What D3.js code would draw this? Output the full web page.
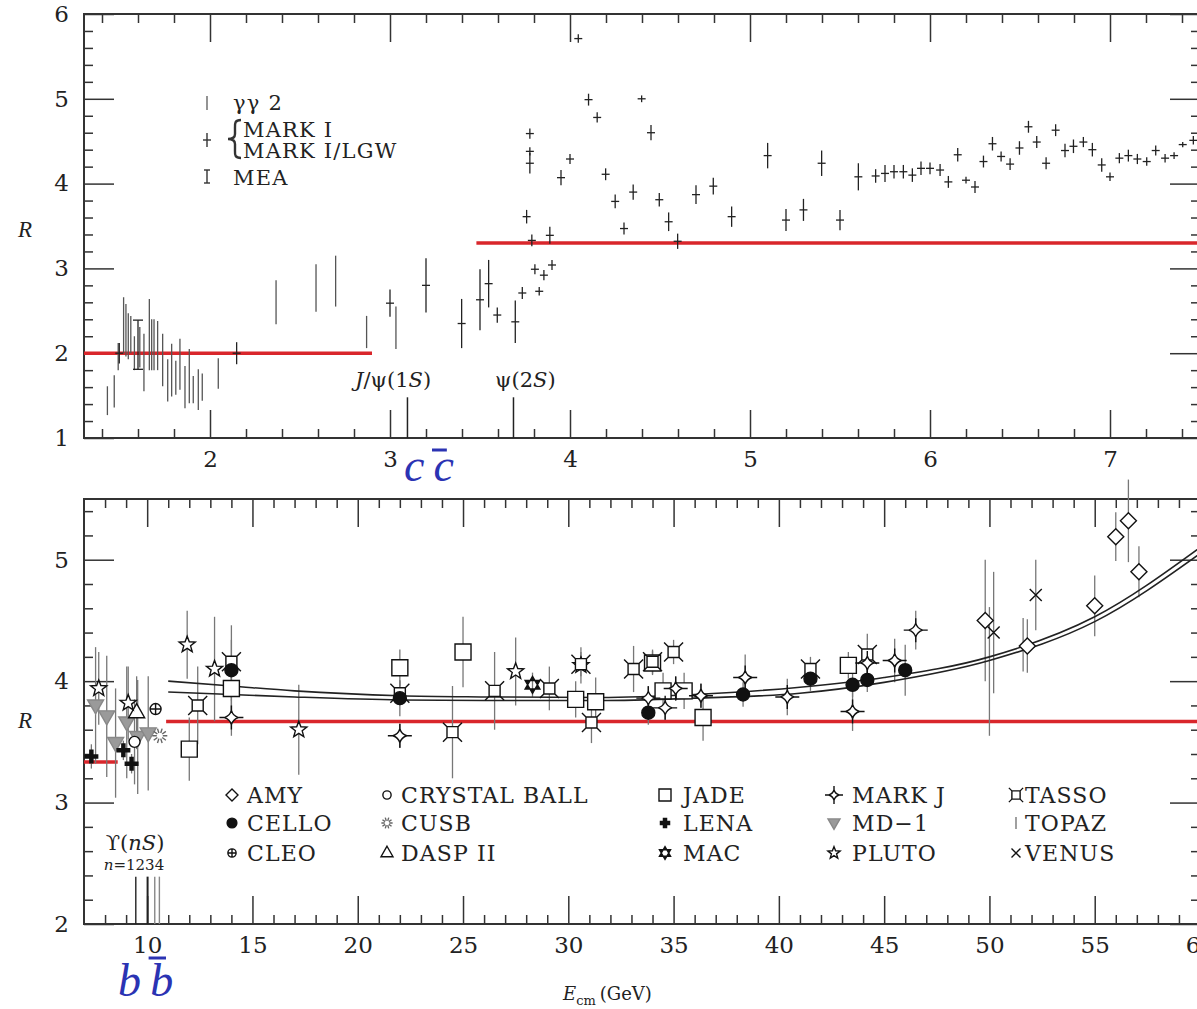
<!DOCTYPE html>
<html>
<head>
<meta charset="utf-8">
<script src="https://cdn.jsdelivr.net/npm/d3@7"></script>
<style>
  body { margin: 0; background: #fff; }
  svg text { font-family: "DejaVu Serif", "Liberation Serif", serif; fill: #222; }
</style>
</head>
<body>
<svg id="chart" width="1197" height="1009"></svg>
<script>
// ---------- data: top panel (E in GeV, R, error) ----------
const gg2 = [[1.43,1.44,0.17],[1.468,1.55,0.19],[1.49,1.96,0.16],[1.52,2.33,0.33],[1.533,2.27,0.31],
  [1.546,2.2,0.27],[1.56,2.22,0.22],[1.58,2.0,0.2],[1.61,2.07,0.24],[1.633,1.89,0.34],[1.663,2.22,0.42],
  [1.676,2.1,0.3],[1.689,2.1,0.3],[1.709,2.09,0.29],[1.737,1.92,0.31],[1.765,1.68,0.25],[1.787,1.8,0.31],
  [1.81,1.71,0.2],[1.833,1.87,0.3],[1.861,1.6,0.25],[1.885,1.73,0.32],[1.907,1.57,0.16],[1.935,1.57,0.24],
  [1.957,1.6,0.16],[2.046,1.76,0.18],[2.367,2.6,0.26],[2.589,2.77,0.28],[2.698,2.85,0.3],[2.87,2.25,0.19],
  [3.033,2.3,0.25]];
const markI = [[1.496,2.0,0.12],[2.148,2.0,0.13],[3.0,2.59,0.16],[3.2,2.8,0.32],[3.398,2.35,0.29],
  [3.5,2.63,0.36],[3.548,2.82,0.28],[3.596,2.45,0.09],[3.696,2.37,0.25],[3.735,2.71,0.07],[3.759,3.61,0.08],
  [3.777,4.59,0.06],[3.777,4.38,0.05],[3.777,4.24,0.12],[3.788,3.33,0.07],[3.805,2.99,0.06],[3.829,2.73,0.05],
  [3.855,2.92,0.06],[3.888,3.39,0.1],[3.9,3.04,0.06],[3.95,4.07,0.09],[4.0,4.29,0.06],[4.046,5.71,0.05],
  [4.103,4.99,0.07],[4.151,4.78,0.06],[4.198,4.11,0.07],[4.251,3.79,0.08],[4.3,3.47,0.07],[4.351,3.9,0.09],
  [4.398,5.0,0.04],[4.45,4.6,0.09],[4.496,3.81,0.08],[4.548,3.55,0.11],[4.598,3.32,0.09],[4.7,3.87,0.11],
  [4.796,3.97,0.1],[4.898,3.61,0.12],[5.098,4.33,0.15],[5.2,3.57,0.13],[5.297,3.69,0.13],[5.398,4.24,0.15],
  [5.5,3.57,0.12],[5.602,4.08,0.16],[5.698,4.09,0.08],[5.75,4.12,0.1],[5.8,4.14,0.08],[5.852,4.14,0.08],
  [5.902,4.1,0.08],[5.95,4.18,0.08],[6.0,4.18,0.07],[6.056,4.16,0.07],[6.102,4.02,0.07],[6.154,4.34,0.08],
  [6.2,4.04,0.04],[6.25,3.96,0.07],[6.297,4.26,0.07],[6.347,4.47,0.08],[6.395,4.32,0.06],[6.445,4.23,0.07],
  [6.497,4.42,0.08],[6.547,4.67,0.07],[6.593,4.49,0.07],[6.645,4.24,0.07],[6.698,4.63,0.07],[6.75,4.39,0.08],
  [6.797,4.44,0.08],[6.852,4.49,0.06],[6.902,4.4,0.08],[6.954,4.22,0.08],[7.0,4.08,0.05],[7.052,4.3,0.06],
  [7.102,4.33,0.07],[7.152,4.29,0.06],[7.204,4.26,0.05],[7.254,4.39,0.06],[7.306,4.3,0.05],[7.356,4.33,0.04],
  [7.404,4.46,0.03],[7.463,4.51,0.05]];
const mea = [[1.6,2.1,0.29]];
const topParton = [[1.3,2.9,2.0],[3.48,7.5,3.3]];        // [from, to, R]
const charmonium = [[3.097,"J/ψ(1S)"],[3.686,"ψ(2S)"]];

// ---------- data: bottom panel ----------
const amy = [[49.8,4.5,0.5],[51.8,4.29,0.22],[55.0,4.62,0.25],[56.0,5.19,0.2],[56.6,5.32,0.34],[57.1,4.9,0.21]];
const cello = [[14.0,4.09,0.25],[22.0,3.86,0.15],[33.8,3.74,0.1],[38.3,3.89,0.1],[41.5,4.02,0.1],
  [43.5,3.97,0.1],[44.2,4.01,0.1],[46.0,4.09,0.21]];
const cleo = [[10.4,3.77,0]];
const crystalBall = [[9.4,3.5,0.35]];
const cusb = [[10.6,3.55,0]];
const daspII = [[9.5,3.74,0.3]];
const jade = [[12.0,3.44,0.26],[14.0,3.94,0.2],[22.0,4.11,0.15],[25.0,4.24,0.29],[30.35,3.85,0.15],
  [31.3,3.83,0.2],[34.0,4.15,0.1],[34.5,3.92,0.15],[35.5,3.92,0.15],[36.4,3.7,0.19],[43.3,4.13,0.11]];
const lena = [[7.35,3.38,0.1],[8.87,3.43,0.08],[9.26,3.32,0.08]];
const mac = [[28.3,3.97,0.1]];
const markJ = [[14.0,3.7,0.15],[22.0,3.55,0.1],[33.8,3.86,0.1],[34.6,3.78,0.1],[35.1,3.94,0.1],
  [36.3,3.88,0.1],[38.4,4.03,0.19],[40.4,3.87,0.15],[43.5,3.75,0.16],[44.2,4.15,0.1],[45.5,4.17,0.18],[46.5,4.42,0.16]];
const md1 = [[7.55,3.8,0.48],[8.08,3.71,0.5],[8.5,3.49,0.45],[9.03,3.66,0.46],[9.55,3.54,0.47],[10.05,3.57,0.47]];
const pluto = [[7.7,3.94,0.3],[9.1,3.82,0.3],[11.9,4.3,0.28],[13.2,4.1,0.43],[17.2,3.6,0.37],[27.5,4.08,0.28],[30.6,4.13,0.15]];
const tasso = [[12.4,3.8,0.32],[14.0,4.16,0.3],[22.0,3.9,0.1],[24.5,3.58,0.38],[26.5,3.92,0.32],[29.1,3.94,0.18],
  [30.6,4.14,0.1],[31.1,3.66,0.17],[33.1,4.1,0.19],[34.0,4.16,0.1],[35.0,4.24,0.1],[41.5,4.1,0.1],[44.2,4.22,0.17]];
const topaz = [[50.0,4.08,0.53],[51.6,4.3,0.22]];
const venus = [[50.2,4.4,0.5],[52.2,4.71,0.29]];
const qcdUpper = [[11,4.0],[14,3.96],[17,3.92],[22,3.88],[26,3.87],[31.5,3.865],[36,3.89],[41,3.95],[45,4.03],[50,4.2],[55,4.53],[60,5.1]];
const qcdLower = [[11,3.91],[14,3.89],[17,3.87],[22,3.845],[26,3.84],[31.5,3.84],[36,3.86],[41,3.9],[45,3.99],[50,4.17],[55,4.49],[60,5.05]];
const botParton = [[7,8.6,10/3],[10.9,60,11/3]];
const upsilon = [9.46,10.02,10.36,10.58];

// tick labels
const topXTicks = [2,3,4,5,6,7];
const topYTicks = [1,2,3,4,5,6];
const botXTicks = [10,15,20,25,30,35,40,45,50,55,60];
const botYTicks = [2,3,4,5];

// legend names (columns of the bottom legend)
const legendCols = [["AMY","CELLO","CLEO"],["CRYSTAL BALL","CUSB","DASP II"],["JADE","LENA","MAC"],
  ["MARK J","MD−1","PLUTO"],["TASSO","TOPAZ","VENUS"]];

// ---------- marker shapes ----------
function star(n, ro, ri) {
  let p = "";
  for (let k = 0; k < 2 * n; k++) {
    const r = k % 2 ? ri : ro, a = -Math.PI / 2 + k * Math.PI / n;
    p += (k ? "L" : "M") + (r * Math.cos(a)).toFixed(2) + "," + (r * Math.sin(a)).toFixed(2);
  }
  return p + "Z";
}
function ring(r) { return `M${r},0A${r},${r} 0 1,1 ${-r},0A${r},${r} 0 1,1 ${r},0Z`; }
function rays(r0, r1, n) {
  let p = "";
  for (let k = 0; k < n; k++) {
    const a = k * 2 * Math.PI / n;
    p += `M${(r0*Math.cos(a)).toFixed(2)},${(r0*Math.sin(a)).toFixed(2)}L${(r1*Math.cos(a)).toFixed(2)},${(r1*Math.sin(a)).toFixed(2)}`;
  }
  return p;
}
const shapes = {
  AMY: { d: "M0,-8L8,0L0,8L-8,0Z", fill: "#fff" },
  CELLO: { d: ring(6.5), fill: "#111" },
  CLEO: { d: ring(5.5) + "M-5.5,0H5.5M0,-5.5V5.5", fill: "#fff" },
  "CRYSTAL BALL": { d: ring(5.5), fill: "#fff" },
  CUSB: { d: rays(3, 7.5, 10), fill: "none", stroke: "#666" },
  "DASP II": { d: "M0,-9L8,5L-8,5Z", fill: "#fff" },
  JADE: { d: "M-8,-8H8V8H-8Z", fill: "#fff" },
  LENA: { d: "M-7,0H7M0,-7V7", fill: "none", width: 4.5 },
  MAC: { d: "M0,-8.5L7.4,4.25L-7.4,4.25ZM0,8.5L7.4,-4.25L-7.4,-4.25Z", fill: "#111" },
  "MARK J": { d: "M0,-7Q1.6,-1.6 7,0Q1.6,1.6 0,7Q-1.6,1.6 -7,0Q-1.6,-1.6 0,-7ZM0,-7V-12M0,7V12M7,0H12M-7,0H-12", fill: "#fff" },
  "MD−1": { d: "M-8,-5.5H8L0,8.5Z", fill: "#9a9a9a", stroke: "#888" },
  PLUTO: { d: star(5, 8.5, 3.6), fill: "#fff" },
  TASSO: { d: "M-5.5,-5.5H5.5V5.5H-5.5ZM-5.5,-5.5L-9.5,-9.5M5.5,-5.5L9.5,-9.5M5.5,5.5L9.5,9.5M-5.5,5.5L-9.5,9.5", fill: "#fff" },
  TOPAZ: { d: "M0,-8V8", fill: "none", stroke: "#777" },
  VENUS: { d: "M-6,-6L6,6M6,-6L-6,6", fill: "none" }
};
const botSeries = [
  ["MD−1", md1], ["CRYSTAL BALL", crystalBall], ["CUSB", cusb], ["CLEO", cleo], ["DASP II", daspII],
  ["LENA", lena], ["TOPAZ", topaz], ["PLUTO", pluto], ["JADE", jade], ["TASSO", tasso], ["CELLO", cello],
  ["MAC", mac], ["MARK J", markJ], ["AMY", amy], ["VENUS", venus]
];

function drawShape(sel, name, scale) {
  const s = shapes[name];
  sel.append("path")
    .attr("d", s.d)
    .attr("transform", scale ? `scale(${scale})` : null)
    .attr("fill", s.fill)
    .attr("stroke", s.stroke || "#111")
    .attr("stroke-width", (s.width || 1.4) / (scale || 1));
}

// ---------- scales ----------
const svg = d3.select("#chart");
svg.append("rect").attr("width", 1197).attr("height", 1009).attr("fill", "#fff");

const topX = d3.scaleLinear().domain([1.3, 7.5]).range([84, 1200]);
const topY = d3.scaleLinear().domain([1, 6]).range([438, 14]);
const botX = d3.scaleLinear().domain([7, 60]).range([84, 1200]);
const botY = d3.scaleLinear().domain([2, 5.5]).range([924, 499]);

// frame + inward ticks on all four sides
function frame(x, y, xMajor, xMinor, yMajor, yMinor) {
  const [x0, x1] = x.range(), [y0, y1] = y.range();
  const g = svg.append("g");
  const style = a => {
    a.select(".domain").remove();
    a.selectAll("line").attr("stroke", "#333").attr("stroke-width", 1.5);
    a.attr("font-size", 23);
  };
  g.append("g").attr("transform", `translate(0,${y0})`)
    .call(d3.axisBottom(x).tickValues(xMinor).tickSize(-9).tickFormat("")).call(style);
  g.append("g").attr("transform", `translate(0,${y0})`)
    .call(d3.axisBottom(x).tickValues(xMajor).tickSize(-28).tickPadding(13).tickFormat(d3.format("d"))).call(style);
  g.append("g").attr("transform", `translate(0,${y1})`)
    .call(d3.axisTop(x).tickValues(xMinor).tickSize(-9).tickFormat("")).call(style);
  g.append("g").attr("transform", `translate(0,${y1})`)
    .call(d3.axisTop(x).tickValues(xMajor).tickSize(-28).tickFormat("")).call(style);
  g.append("g").attr("transform", `translate(${x0},0)`)
    .call(d3.axisLeft(y).tickValues(yMinor).tickSize(-9).tickFormat("")).call(style);
  g.append("g").attr("transform", `translate(${x0},0)`)
    .call(d3.axisLeft(y).tickValues(yMajor).tickSize(-30).tickPadding(15).tickFormat(d3.format("d"))).call(style);
  g.append("g").attr("transform", `translate(${x1},0)`)
    .call(d3.axisRight(y).tickValues(yMinor).tickSize(-9).tickFormat("")).call(style);
  g.append("g").attr("transform", `translate(${x1},0)`)
    .call(d3.axisRight(y).tickValues(yMajor).tickSize(-30).tickFormat("")).call(style);
  g.append("rect").attr("x", x0).attr("y", y1).attr("width", x1 - x0).attr("height", y0 - y1)
    .attr("fill", "none").attr("stroke", "#333").attr("stroke-width", 2);
  return g;
}

const notInt = v => Math.abs(v - Math.round(v)) > 1e-6;
frame(topX, topY, topXTicks, d3.range(7, 38).map(i => i / 5).filter(notInt),
      topYTicks, d3.range(5, 31).map(i => i / 5).filter(notInt));
frame(botX, botY, botXTicks, d3.range(8, 60).filter(v => v % 5),
      botYTicks, d3.range(10, 28).map(i => i / 5).filter(notInt));

// ---------- top panel marks ----------
const gT = svg.append("g");
gT.selectAll(".parton").data(topParton).join("line")
  .attr("x1", d => topX(d[0])).attr("x2", d => topX(d[1]))
  .attr("y1", d => topY(d[2])).attr("y2", d => topY(d[2]))
  .attr("stroke", "#d9262b").attr("stroke-width", 3.5);

gT.selectAll(".res").data(charmonium).join("line")
  .attr("x1", d => topX(d[0])).attr("x2", d => topX(d[0]))
  .attr("y1", topY(1)).attr("y2", topY(1.48))
  .attr("stroke", "#222").attr("stroke-width", 1.5);

gT.selectAll(".gg2").data(gg2).join("line")
  .attr("x1", d => topX(d[0])).attr("x2", d => topX(d[0]))
  .attr("y1", d => topY(d[1] - d[2])).attr("y2", d => topY(d[1] + d[2]))
  .attr("stroke", "#555").attr("stroke-width", 1.3);

const mk = gT.selectAll(".mk").data(markI).join("g")
  .attr("transform", d => `translate(${topX(d[0])},${topY(d[1])})`)
  .attr("stroke", "#222").attr("stroke-width", 1.3);
mk.append("line").attr("y1", d => topY(d[1] - d[2]) - topY(d[1])).attr("y2", d => topY(d[1] + d[2]) - topY(d[1]));
mk.append("line").attr("x1", -4).attr("x2", 4);

const me = gT.selectAll(".mea").data(mea).join("g")
  .attr("transform", d => `translate(${topX(d[0])},${topY(d[1])})`)
  .attr("stroke", "#222").attr("stroke-width", 1.3);
me.append("line").attr("y1", d => topY(d[1] - d[2]) - topY(d[1])).attr("y2", d => topY(d[1] + d[2]) - topY(d[1]));
me.append("line").attr("x1", -5).attr("x2", 5).attr("y1", d => topY(d[1] + d[2]) - topY(d[1])).attr("y2", d => topY(d[1] + d[2]) - topY(d[1]));
me.append("line").attr("x1", -5).attr("x2", 5).attr("y1", d => topY(d[1] - d[2]) - topY(d[1])).attr("y2", d => topY(d[1] - d[2]) - topY(d[1]));

// resonance labels
const jl = svg.append("text").attr("x", 355).attr("y", 387).attr("font-size", 21);
jl.append("tspan").attr("font-style", "italic").text("J");
jl.append("tspan").text("/ψ(1");
jl.append("tspan").attr("font-style", "italic").text("S");
jl.append("tspan").text(")");
const pl = svg.append("text").attr("x", 495).attr("y", 387).attr("font-size", 21);
pl.append("tspan").text("ψ(2");
pl.append("tspan").attr("font-style", "italic").text("S");
pl.append("tspan").text(")");

// top legend
const lg = svg.append("g").attr("stroke", "#333").attr("stroke-width", 1.4);
lg.append("line").attr("x1", 207).attr("x2", 207).attr("y1", 96).attr("y2", 110).attr("stroke", "#666");
lg.append("line").attr("x1", 207).attr("x2", 207).attr("y1", 133).attr("y2", 147);
lg.append("line").attr("x1", 203).attr("x2", 211).attr("y1", 140).attr("y2", 140);
lg.append("line").attr("x1", 207).attr("x2", 207).attr("y1", 170).attr("y2", 183);
lg.append("line").attr("x1", 204).attr("x2", 210).attr("y1", 170).attr("y2", 170);
lg.append("line").attr("x1", 204).attr("x2", 210).attr("y1", 183).attr("y2", 183);
lg.append("path").attr("fill", "none").attr("stroke-width", 2.4)
  .attr("d", "M241,120C234,120 235,124 235,130L235,134C235,137 233,139 228,139C233,139 235,141 235,144L235,149C235,154 234,158 241,158");
const tl = [["γγ 2", 233, 110], ["MARK I", 243, 137], ["MARK I/LGW", 243, 158], ["MEA", 233, 185]];
svg.selectAll(".tl").data(tl).join("text")
  .attr("x", d => d[1]).attr("y", d => d[2]).attr("font-size", 21).attr("letter-spacing", 1.2).text(d => d[0]);

// ---------- bottom panel marks ----------
const gB = svg.append("g");
gB.selectAll(".parton").data(botParton).join("line")
  .attr("x1", d => botX(d[0])).attr("x2", d => botX(d[1]))
  .attr("y1", d => botY(d[2])).attr("y2", d => botY(d[2]))
  .attr("stroke", "#d9262b").attr("stroke-width", 3.5);

gB.selectAll(".ups").data(upsilon).join("line")
  .attr("x1", d => botX(d)).attr("x2", d => botX(d))
  .attr("y1", botY(2)).attr("y2", botY(2.39))
  .attr("stroke", (d, i) => i < 2 ? "#222" : "#888").attr("stroke-width", (d, i) => i === 1 ? 2 : 1.4);

// error bars first, then the markers
botSeries.forEach(([name, data]) => {
  gB.append("g").selectAll("line").data(data.filter(d => d[2] > 0)).join("line")
    .attr("x1", d => botX(d[0])).attr("x2", d => botX(d[0]))
    .attr("y1", d => botY(d[1] - d[2])).attr("y2", d => botY(d[1] + d[2]))
    .attr("stroke", "#777").attr("stroke-width", 1.3);
});

const line = d3.line().x(d => botX(d[0])).y(d => botY(d[1])).curve(d3.curveMonotoneX);
[qcdUpper, qcdLower].forEach(c => {
  gB.append("path").attr("d", line(c)).attr("fill", "none").attr("stroke", "#222").attr("stroke-width", 1.6);
});

botSeries.forEach(([name, data]) => {
  if (name === "TOPAZ") return;
  gB.append("g").selectAll("g").data(data).join("g")
    .attr("transform", d => `translate(${botX(d[0])},${botY(d[1])})`)
    .each(function () { drawShape(d3.select(this), name); });
});

// Upsilon label
const ul = svg.append("text").attr("x", 135).attr("y", 850).attr("text-anchor", "middle").attr("font-size", 21);
ul.append("tspan").text("ϒ(");
ul.append("tspan").attr("font-style", "italic").text("nS");
ul.append("tspan").text(")");
const nl = svg.append("text").attr("x", 134).attr("y", 870).attr("text-anchor", "middle").attr("font-size", 15);
nl.append("tspan").attr("font-style", "italic").text("n");
nl.append("tspan").text("=1234");

// bottom legend
const colX = [[232, 247], [387, 401], [665, 683], [834, 852], [1016, 1025]];
const rowY = [795, 823, 853];
legendCols.forEach((col, ci) => {
  col.forEach((name, ri) => {
    const g = svg.append("g").attr("transform", `translate(${colX[ci][0]},${rowY[ri]})`);
    drawShape(g, name, 0.75);
    svg.append("text").attr("x", colX[ci][1]).attr("y", rowY[ri] + 8)
      .attr("font-size", 22).attr("letter-spacing", 1.1).text(name);
  });
});

// axis titles
svg.selectAll(".rl").data([topY(3.45), botY(3.67)]).join("text")
  .attr("x", 18).attr("y", d => d + 7).attr("font-size", 23)
  .attr("font-style", "italic").style("font-family", "Liberation Serif").text("R");
const xl = svg.append("text").attr("x", 563).attr("y", 1000).attr("font-size", 18);
xl.append("tspan").attr("font-style", "italic").text("E");
xl.append("tspan").attr("font-size", 13).attr("dy", 5).text("cm");
xl.append("tspan").attr("dy", -5).attr("dx", 4).text("(GeV)");

// quark flavour labels
const blue = "#2b33b3";
function quarkLabel(q, x, y, size, barY) {
  const t = svg.append("text").attr("x", x).attr("y", y).attr("font-size", size)
    .style("font-family", "Liberation Serif").attr("font-style", "italic").style("fill", blue);
  t.append("tspan").text(q);
  t.append("tspan").attr("dx", size * 0.2).text(q);
  const w = t.node().getComputedTextLength();
  const cw = w / 2 - size * 0.1;
  svg.append("line").attr("x1", x + w - cw + 3).attr("x2", x + w + 2)
    .attr("y1", barY).attr("y2", barY).attr("stroke", blue).attr("stroke-width", 3);
}
quarkLabel("c", 404, 481, 46, 450);
quarkLabel("b", 118, 996, 46, 958);
</script>
</body>
</html>
